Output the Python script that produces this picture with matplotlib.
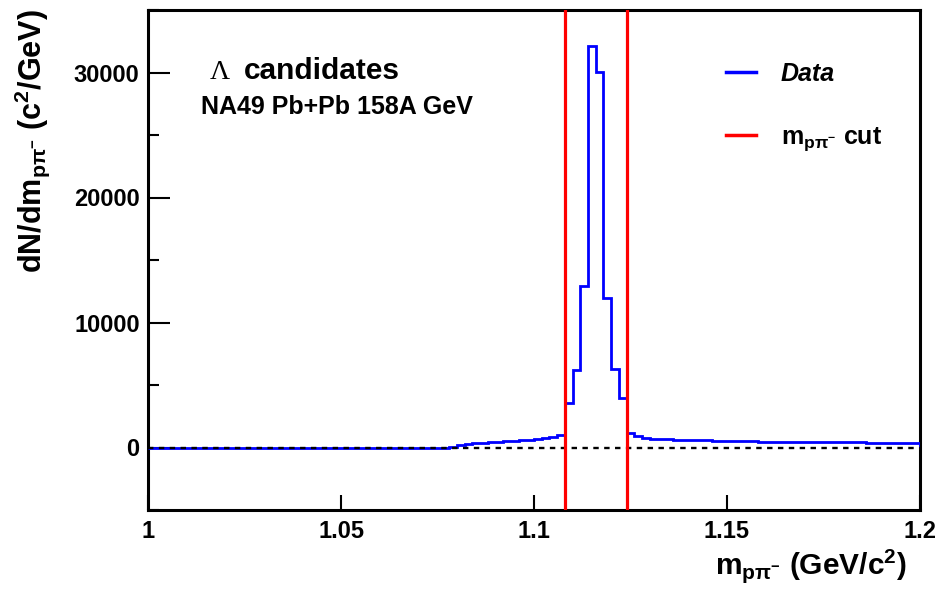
import numpy as np
import matplotlib
matplotlib.use("Agg")
import matplotlib.pyplot as plt
from matplotlib.ticker import MultipleLocator, FixedLocator
from matplotlib.lines import Line2D

plt.rcParams['font.family'] = ['Liberation Sans', 'DejaVu Sans']
plt.rcParams['font.weight'] = 'bold'
plt.rcParams['mathtext.fontset'] = 'custom'
plt.rcParams['mathtext.rm'] = 'Liberation Sans:bold'
plt.rcParams['mathtext.it'] = 'Liberation Sans:bold'
plt.rcParams['mathtext.bf'] = 'Liberation Sans:bold'
plt.rcParams['mathtext.sf'] = 'Liberation Sans:bold'

# ---- data (bin width 0.002 GeV/c^2, 1.0 .. 1.2) ----
bin_edges = np.round(np.arange(1.0, 1.2001, 0.002), 4)
left_flat = [0] * 39
left_rise = [80, 200, 280, 330, 380, 420, 460, 500, 550, 590, 630, 680, 740, 850, 1040]
peak = [3600, 6240, 12900, 32160, 30050, 11970, 6290, 3970]
right_tail = [1170, 900, 760, 720, 700, 680, 640, 620, 600, 590, 570, 550, 530, 520,
              510, 500, 490, 480, 480, 470, 470, 460, 460, 450, 450, 440, 430, 430,
              420, 420, 410, 400, 380, 400, 390, 370, 380, 390]
counts = left_flat + left_rise + peak + right_tail
cut_low, cut_high = 1.108, 1.124
xticks = [1.0, 1.05, 1.1, 1.15, 1.2]
xticklabels = ["1", "1.05", "1.1", "1.15", "1.2"]
yticks = [0, 10000, 20000, 30000]

fig = plt.figure(figsize=(9.38, 6.02), dpi=100)
ax = fig.add_axes([148/938, 1 - 510/602, (920-148)/938, (510-10)/602])

ax.stairs(counts, bin_edges, color='blue', lw=2.0, zorder=3)
ax.axhline(0, color='black', lw=1.7, dashes=(2.3, 2.3), zorder=4)
ax.axvline(cut_low, color='red', lw=2.3, zorder=5)
ax.axvline(cut_high, color='red', lw=2.3, zorder=5)

ax.set_xlim(1.0, 1.2)
ax.set_ylim(-5000, 35000)

ax.xaxis.set_major_locator(FixedLocator(xticks))
ax.set_xticklabels(xticklabels)
ax.yaxis.set_major_locator(FixedLocator(yticks))
ax.yaxis.set_minor_locator(MultipleLocator(5000))

for s in ax.spines.values():
    s.set_linewidth(2.2)
ax.tick_params(axis='x', which='major', direction='in', length=11, width=1.5,
               labelsize=17, pad=7)
ax.tick_params(axis='y', which='major', direction='in', length=16, width=1.5,
               labelsize=17, pad=6)
ax.tick_params(axis='y', which='minor', direction='in', length=8, width=1.5)
for lab in ax.get_xticklabels() + ax.get_yticklabels():
    lab.set_fontweight('bold')

ax.set_xlabel(r'm$_{\mathregular{p\pi^{-}}}$ (GeV/c$^{\mathregular{2}}$)', fontsize=21.5,
              fontweight='bold', loc='right')
ax.xaxis.set_label_coords((907-148)/772, (510-547)/500)
ax.set_ylabel(r'dN/dm$_{\mathregular{p\pi^{-}}}$ (c$^{\mathregular{2}}$/GeV)', fontsize=22,
              fontweight='bold', loc='top')
ax.yaxis.set_label_coords((52-148)/772, (510-9)/500)

# annotations
fig.text(210/938, 1 - 79/602, 'Λ', fontsize=20, family='Liberation Serif',
         fontweight='normal', ha='left', va='baseline')
fig.text(244/938, 1 - 79/602, 'candidates', fontsize=21.5, fontweight='bold',
         ha='left', va='baseline')
fig.text(201/938, 1 - 114/602, 'NA49 Pb+Pb 158A GeV', fontsize=18, fontweight='bold',
         ha='left', va='baseline')

# legend
h1 = Line2D([], [], color='blue', lw=2.5)
h2 = Line2D([], [], color='red', lw=2.5)
leg = fig.legend([h1, h2], ['Data', r'm$_{\mathregular{p\pi^{-}}}$ cut'],
                 loc='upper left', bbox_to_anchor=(706/938, 1 - 42/602),
                 frameon=False, fontsize=18, handlelength=1.2, handletextpad=1.0,
                 labelspacing=1.55, borderpad=0.3)
texts = leg.get_texts()
texts[0].set_fontstyle('italic')
for t in texts:
    t.set_fontweight('bold')

fig.savefig('out.png', dpi=100)
